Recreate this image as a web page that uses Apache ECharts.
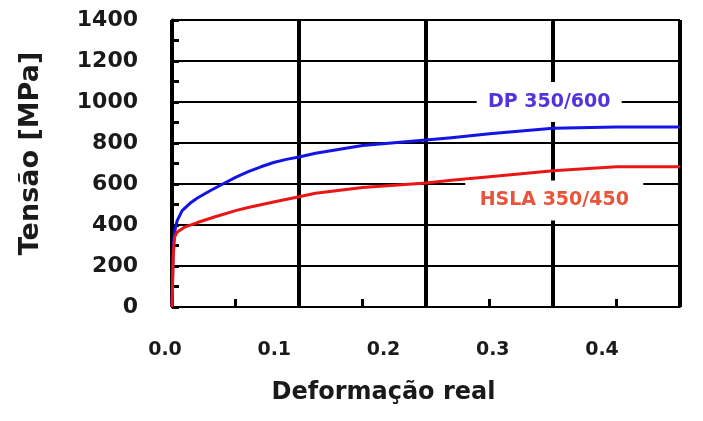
<!DOCTYPE html>
<html>
<head>
<meta charset="utf-8">
<script src="https://cdn.jsdelivr.net/npm/echarts@6/dist/echarts.min.js"></script>
<style>
  html, body { margin: 0; padding: 0; background: #fff; }
  #chart { width: 703px; height: 421px; }
</style>
</head>
<body>
<div id="chart"></div>
<script>
// deformação real (strain) vs tensão (MPa)
const dpStrain = [0, 0.001, 0.002, 0.004, 0.008, 0.015, 0.02, 0.03, 0.04, 0.05, 0.06, 0.07, 0.08, 0.09, 0.1, 0.113, 0.15, 0.2, 0.22, 0.25, 0.3, 0.35, 0.4]
const dpStress = [0, 300, 365, 420, 470, 510, 532, 567, 600, 632, 660, 684, 705, 720, 732, 750, 788, 815, 826, 845, 872, 878, 878]

const hslaStrain = [0, 0.001, 0.002, 0.004, 0.01, 0.02, 0.034, 0.05, 0.06, 0.08, 0.1, 0.113, 0.15, 0.2, 0.22, 0.25, 0.3, 0.35, 0.4]
const hslaStress = [0, 250, 340, 365, 390, 412, 440, 470, 485, 512, 538, 555, 583, 605, 618, 635, 665, 684, 684]

const xTicks = [0, 0.1, 0.2, 0.3, 0.4]
const yTicks = [0, 200, 400, 600, 800, 1000, 1200, 1400]

const font = 'DejaVu Sans'
const ink = '#1a1a1a'

const chart = echarts.init(document.getElementById('chart'))

const pairs = (xs, ys) => xs.map((x, i) => [x, ys[i]])

chart.setOption({
  animation: false,
  backgroundColor: '#fff',
  grid: [
    { left: 172, right: 23, top: 20, bottom: 114 },
    // label strip: tick labels in the original sit slightly left of the grid lines
    { left: 165, right: 101, top: 20, bottom: 114 }
  ],
  xAxis: [{
    type: 'value', gridIndex: 0,
    min: xTicks[0], max: xTicks[xTicks.length - 1], interval: 0.1,
    axisLine: { show: true, lineStyle: { color: '#000', width: 2 } },
    axisTick: { show: true, inside: true, length: 8, lineStyle: { color: '#000', width: 3 } },
    minorTick: { show: true, splitNumber: 2, length: 8, lineStyle: { color: '#000', width: 3 } },
    axisLabel: { show: false },
    splitLine: { show: true, lineStyle: { color: '#000', width: 4 } }
  }, {
    type: 'value', gridIndex: 1,
    min: xTicks[0], max: xTicks[xTicks.length - 1], interval: 0.1,
    axisLine: { show: false },
    axisTick: { show: false },
    splitLine: { show: false },
    axisLabel: {
      margin: 34, color: ink, fontFamily: font, fontWeight: 'bold', fontSize: 19,
      formatter: v => v.toFixed(1)
    },
    name: 'Deformação real',
    nameLocation: 'middle',
    nameGap: 74,
    nameTextStyle: { color: ink, fontFamily: font, fontWeight: 'bold', fontSize: 24 }
  }],
  yAxis: [{
    type: 'value', gridIndex: 0,
    min: yTicks[0], max: yTicks[yTicks.length - 1], interval: 200,
    axisLine: { show: true, lineStyle: { color: '#000', width: 3 } },
    axisTick: { show: true, inside: true, length: 7, lineStyle: { color: '#000', width: 3 } },
    minorTick: { show: true, splitNumber: 2, length: 7, lineStyle: { color: '#000', width: 3 } },
    axisLabel: {
      margin: 34, color: ink, fontFamily: font, fontWeight: 'bold', fontSize: 22,
      formatter: v => String(v)
    },
    splitLine: { show: true, lineStyle: { color: '#000', width: 2 } },
    name: 'Tensão [MPa]',
    nameLocation: 'middle',
    nameGap: 128,
    nameTextStyle: { color: ink, fontFamily: font, fontWeight: 'bold', fontSize: 27, padding: [0, 0, 0, 20] }
  }, {
    type: 'value', gridIndex: 1, show: false, min: 0, max: 1400
  }],
  series: [{
    name: 'DP 350/600',
    type: 'line', xAxisIndex: 0, yAxisIndex: 0,
    data: pairs(dpStrain, dpStress),
    smooth: false, showSymbol: false,
    lineStyle: { color: '#1414e6', width: 3, join: 'round' },
    z: 3,
    markPoint: {
      symbol: 'rect', symbolSize: [145, 40],
      itemStyle: { color: '#fff' },
      label: { show: true, position: 'inside', color: '#5433dd', fontFamily: font, fontWeight: 'bold', fontSize: 19 },
      data: [{ coord: [0.297, 1000], value: 'DP 350/600' }]
    }
  }, {
    name: 'HSLA 350/450',
    type: 'line', xAxisIndex: 0, yAxisIndex: 0,
    data: pairs(hslaStrain, hslaStress),
    smooth: false, showSymbol: false,
    lineStyle: { color: '#ea1616', width: 3, join: 'round' },
    z: 4,
    markPoint: {
      symbol: 'rect', symbolSize: [178, 40],
      itemStyle: { color: '#fff' },
      label: { show: true, position: 'inside', color: '#e6553c', fontFamily: font, fontWeight: 'bold', fontSize: 19 },
      data: [{ coord: [0.301, 520], value: 'HSLA 350/450' }]
    }
  }]
})
</script>
</body>
</html>
